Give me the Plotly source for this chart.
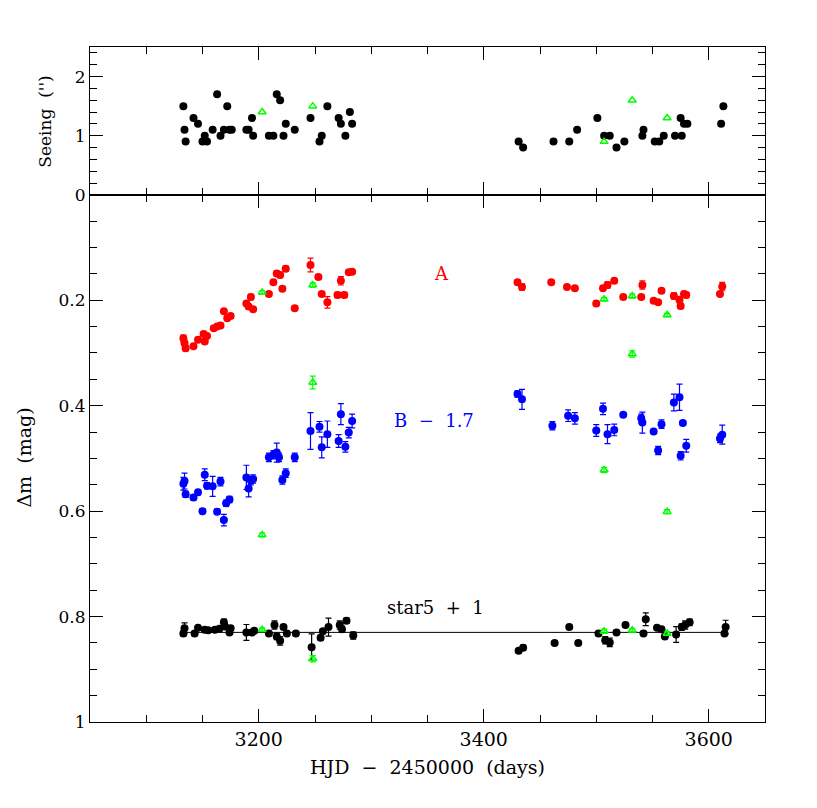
import plotly.graph_objects as go
from plotly.subplots import make_subplots

# ---- data ----
seeing_day = [3133, 3134, 3135, 3142, 3146, 3150, 3152, 3154, 3159, 3163, 3166, 3169,
              3172, 3174, 3176, 3189, 3191, 3194, 3195, 3209, 3213, 3216, 3219, 3222,
              3224, 3232, 3246, 3254, 3256, 3261, 3271, 3273, 3277, 3281, 3283,
              3431, 3435, 3462, 3476, 3483, 3501, 3507, 3512, 3518, 3525, 3541, 3542,
              3552, 3556, 3560, 3570, 3575, 3576, 3578, 3581, 3611, 3613]
seeing = [1.5, 1.1, 0.9, 1.3, 1.2, 0.9, 1.0, 0.9, 1.1, 1.7, 1.0, 1.1,
          1.5, 1.1, 1.1, 1.1, 1.1, 1.3, 1.0, 1.0, 1.0, 1.7, 1.6, 1.0,
          1.2, 1.1, 1.3, 0.9, 1.0, 1.5, 1.3, 1.2, 1.0, 1.4, 1.2,
          0.9, 0.8, 0.9, 0.9, 1.1, 1.3, 1.0, 1.0, 0.8, 0.9, 1.0, 1.1,
          0.9, 0.9, 1.0, 1.0, 1.3, 1.0, 1.2, 1.2, 1.2, 1.5]

a_day = [3133, 3134, 3135, 3142, 3146, 3151, 3152, 3154, 3160, 3163, 3166, 3169,
         3172, 3175, 3189, 3191, 3193, 3195, 3209, 3213, 3216, 3219, 3221, 3224,
         3232, 3246, 3253, 3256, 3261, 3270, 3273, 3276, 3280, 3283,
         3430, 3434, 3460, 3474, 3481, 3500, 3506, 3510, 3516, 3524, 3540, 3541,
         3551, 3555, 3558, 3569, 3574, 3575, 3578, 3580, 3610, 3612]
a_mag = [0.272, 0.281, 0.291, 0.287, 0.275, 0.264, 0.278, 0.268, 0.253, 0.250, 0.248, 0.221,
         0.234, 0.230, 0.206, 0.212, 0.194, 0.217, 0.188, 0.166, 0.149, 0.152, 0.178, 0.140,
         0.215, 0.133, 0.156, 0.188, 0.204, 0.190, 0.163, 0.190, 0.147, 0.146,
         0.166, 0.175, 0.166, 0.175, 0.177, 0.206, 0.177, 0.171, 0.163, 0.194, 0.194, 0.171,
         0.201, 0.204, 0.182, 0.192, 0.199, 0.211, 0.188, 0.190, 0.188, 0.174]
a_err = [0.006, 0.005, 0.005, 0.004, 0.004, 0.004, 0.004, 0.004, 0.004, 0.004, 0.004, 0.004,
         0.004, 0.004, 0.004, 0.004, 0.005, 0.004, 0.004, 0.004, 0.005, 0.005, 0.004, 0.005,
         0.004, 0.013, 0.004, 0.004, 0.011, 0.005, 0.008, 0.005, 0.004, 0.004,
         0.004, 0.006, 0.004, 0.004, 0.004, 0.004, 0.004, 0.006, 0.004, 0.004, 0.004, 0.008,
         0.004, 0.004, 0.004, 0.006, 0.006, 0.005, 0.005, 0.005, 0.004, 0.008]

b_day = [3133, 3134, 3135, 3142, 3146, 3150, 3152, 3154, 3159, 3163, 3166, 3169,
         3171, 3174, 3189, 3191, 3193, 3195, 3209, 3213, 3216, 3218, 3221, 3224,
         3232, 3246, 3254, 3256, 3261, 3271, 3273, 3277, 3280, 3283,
         3430, 3434, 3461, 3475, 3481, 3500, 3506, 3510, 3516, 3524, 3540, 3541,
         3551, 3555, 3558, 3569, 3574, 3575, 3577, 3580, 3610, 3612]
b_mag = [0.548, 0.543, 0.568, 0.574, 0.564, 0.600, 0.531, 0.552, 0.553, 0.601, 0.544, 0.617,
         0.585, 0.578, 0.536, 0.557, 0.542, 0.539, 0.498, 0.493, 0.489, 0.498, 0.541, 0.528,
         0.498, 0.448, 0.440, 0.479, 0.454, 0.467, 0.416, 0.478, 0.451, 0.429,
         0.378, 0.388, 0.438, 0.419, 0.424, 0.447, 0.406, 0.454, 0.446, 0.417, 0.424, 0.432,
         0.449, 0.485, 0.435, 0.394, 0.384, 0.495, 0.433, 0.476, 0.462, 0.455]
b_err = [0.012, 0.015, 0.006, 0.005, 0.005, 0.004, 0.011, 0.006, 0.019, 0.005, 0.008, 0.011,
         0.006, 0.006, 0.023, 0.016, 0.008, 0.008, 0.008, 0.008, 0.018, 0.008, 0.008, 0.008,
         0.008, 0.035, 0.010, 0.020, 0.025, 0.012, 0.020, 0.010, 0.010, 0.013,
         0.006, 0.019, 0.008, 0.011, 0.011, 0.011, 0.011, 0.018, 0.011, 0.004, 0.008, 0.020,
         0.004, 0.008, 0.008, 0.016, 0.025, 0.008, 0.004, 0.012, 0.008, 0.018]

s5_day = [3133, 3134, 3143, 3146, 3152, 3155, 3161, 3165, 3169, 3170, 3174, 3175,
          3189, 3194, 3196, 3209, 3214, 3216, 3219, 3222, 3225, 3233, 3247, 3255,
          3257, 3262, 3272, 3274, 3278, 3284,
          3431, 3435, 3463, 3476, 3484, 3502, 3508, 3512, 3518, 3526, 3542, 3544,
          3554, 3558, 3561, 3571, 3576, 3579, 3583, 3614, 3615]
s5_mag = [0.832, 0.822, 0.832, 0.821, 0.825, 0.826, 0.825, 0.823, 0.811, 0.819, 0.830, 0.822,
          0.830, 0.830, 0.827, 0.832, 0.816, 0.838, 0.846, 0.820, 0.832, 0.832, 0.858, 0.840,
          0.828, 0.820, 0.816, 0.824, 0.808, 0.836,
          0.865, 0.859, 0.850, 0.820, 0.850, 0.832, 0.845, 0.849, 0.830, 0.816, 0.832, 0.805,
          0.821, 0.824, 0.838, 0.834, 0.820, 0.816, 0.811, 0.832, 0.820]
s5_err = [0.005, 0.010, 0.004, 0.004, 0.004, 0.004, 0.004, 0.004, 0.006, 0.004, 0.004, 0.004,
          0.015, 0.004, 0.004, 0.004, 0.008, 0.006, 0.008, 0.004, 0.004, 0.004, 0.025, 0.005,
          0.004, 0.017, 0.008, 0.006, 0.005, 0.007,
          0.004, 0.005, 0.003, 0.004, 0.003, 0.004, 0.007, 0.008, 0.004, 0.003, 0.004, 0.012,
          0.004, 0.004, 0.004, 0.015, 0.006, 0.008, 0.006, 0.004, 0.013]

green_day = [3203, 3248, 3507, 3532, 3563]
green_seeing = [1.4, 1.5, 0.9, 1.6, 1.3]
green_a = [0.185, 0.171, 0.198, 0.192, 0.228]
green_b = [0.645, 0.356, 0.522, 0.302, 0.601]
green_s5 = [0.825, 0.880, 0.828, 0.826, 0.832]
green_err_a = [0.003, 0.004, 0.003, 0.004, 0.003]
green_err_b = [0.004, 0.012, 0.005, 0.006, 0.004]
green_err_s5 = [0.003, 0.006, 0.004, 0.003, 0.003]

ref_day = [3132, 3615]
ref_mag = [0.83, 0.83]

FONT = "DejaVu Serif"
RED = "#ff0000"
BLUE = "#0000ff"
GREEN = "#00ff00"
BLACK = "#000000"

fig = make_subplots(rows=2, cols=1, shared_xaxes=True,
                    row_heights=[0.219, 0.781], vertical_spacing=0)


def dots(x, y, err, color, row):
    fig.add_trace(go.Scatter(
        x=x, y=y, mode="markers",
        marker=dict(symbol="circle", size=8, color=color, line=dict(width=0)),
        error_y=dict(type="data", array=err, visible=err is not None,
                     color=color, thickness=1.2, width=3),
        showlegend=False), row=row, col=1)


def tris(x, y, err, row):
    fig.add_trace(go.Scatter(
        x=x, y=y, mode="markers",
        marker=dict(symbol="triangle-up-open", size=7, color=GREEN,
                    line=dict(width=1.5, color=GREEN)),
        error_y=dict(type="data", array=err, visible=err is not None,
                     color=GREEN, thickness=1.2, width=3),
        showlegend=False), row=row, col=1)


# seeing panel
dots(seeing_day, seeing, None, BLACK, 1)
tris(green_day, green_seeing, None, 1)

# light curves
fig.add_trace(go.Scatter(x=ref_day, y=ref_mag, mode="lines",
                         line=dict(color=BLACK, width=1), showlegend=False),
              row=2, col=1)
dots(a_day, a_mag, a_err, RED, 2)
dots(b_day, b_mag, b_err, BLUE, 2)
dots(s5_day, s5_mag, s5_err, BLACK, 2)
tris(green_day, green_a, green_err_a, 2)
tris(green_day, green_b, green_err_b, 2)
tris(green_day, green_s5, green_err_s5, 2)

# series labels
for txt, xx, yy, col in [("A", 3362, 0.149, RED),
                         ("B  \u2212  1.7", 3356, 0.428, BLUE),
                         ("star5  +  1", 3357, 0.782, BLACK)]:
    fig.add_annotation(x=xx, y=yy, xref="x2", yref="y2", text=txt, showarrow=False,
                       font=dict(family=FONT, size=18, color=col))

# axis titles placed in paper units (plot area is 675 x 675 px)
for txt, xx, yy, ang, size in [("HJD  \u2212  2450000  (days)", 0.5007, -0.067, 0, 19),
                               ("\u0394m  (mag)", -0.097, 0.391, -90, 19),
                               ("Seeing  ('')", -0.067, 0.889, -90, 17)]:
    fig.add_annotation(x=xx, y=yy, xref="paper", yref="paper", text=txt,
                       showarrow=False, textangle=ang,
                       xanchor="center", yanchor="middle",
                       font=dict(family=FONT, size=size, color=BLACK))

axis_common = dict(
    showline=True, linecolor=BLACK, linewidth=1.2, mirror="allticks",
    ticks="inside", tickcolor=BLACK, showgrid=False, zeroline=False,
)

fig.update_xaxes(range=[3050, 3650], tickmode="linear", tick0=3200, dtick=200,
                 ticklen=13, tickwidth=1,
                 tickfont=dict(family=FONT, size=19, color=BLACK),
                 minor=dict(ticks="inside", dtick=50, tick0=3000, ticklen=7,
                            tickcolor=BLACK, showgrid=False),
                 **axis_common)
fig.update_xaxes(showticklabels=False, row=1, col=1)

fig.update_yaxes(tickfont=dict(family=FONT, size=17, color=BLACK))
fig.update_yaxes(range=[0, 2.5], tickvals=[0, 1, 2], ticktext=["0", "1", "2"],
                 ticklen=13, tickwidth=1,
                 minor=dict(ticks="inside", dtick=0.2, tick0=0, ticklen=7,
                            tickcolor=BLACK, showgrid=False),
                 row=1, col=1, **axis_common)
fig.update_yaxes(range=[1, 0], tickvals=[0.2, 0.4, 0.6, 0.8, 1],
                 ticktext=["0.2", "0.4", "0.6", "0.8", "1"],
                 ticklen=13, tickwidth=1,
                 minor=dict(ticks="inside", dtick=0.05, tick0=0, ticklen=7,
                            tickcolor=BLACK, showgrid=False),
                 row=2, col=1, **axis_common)

# page body has an 8px margin, so the figure is sized to fit inside it
fig.update_layout(
    width=801, height=792,
    margin=dict(l=82, r=44, t=39, b=78),
    plot_bgcolor="white", paper_bgcolor="white",
    font=dict(family=FONT, color=BLACK),
)

fig.write_html("out.html")
